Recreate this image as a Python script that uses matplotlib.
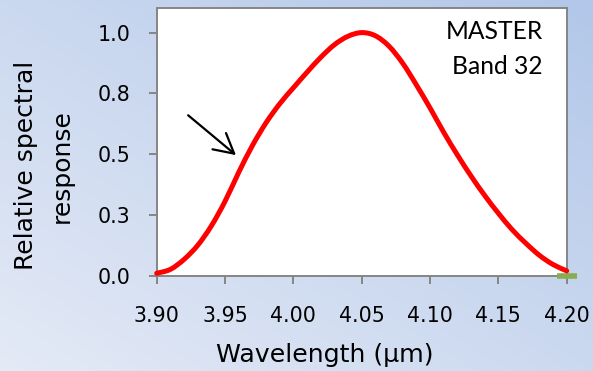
import numpy as np
import matplotlib
matplotlib.use("Agg")
import matplotlib.pyplot as plt
from matplotlib.path import Path
from matplotlib.patches import PathPatch

# Spectral response curve of MASTER band 32
wavelength = [3.900, 3.910, 3.920, 3.930, 3.940, 3.950, 3.960, 3.970, 3.980, 3.990,
              4.000, 4.010, 4.020, 4.030, 4.040, 4.050, 4.060, 4.070, 4.080,
              4.090, 4.100, 4.110, 4.120, 4.130, 4.140, 4.150, 4.160, 4.170, 4.180,
              4.190, 4.200]
response = [0.010, 0.026, 0.067, 0.125, 0.205, 0.306, 0.425, 0.535, 0.629, 0.707,
            0.773, 0.837, 0.898, 0.950, 0.985, 1.000, 0.987, 0.944, 0.874,
            0.785, 0.690, 0.590, 0.497, 0.410, 0.330, 0.257, 0.190, 0.134, 0.084,
            0.046, 0.020]

# Band-edge marker
edge_x = [4.20]
edge_y = [0.0]

x_ticks = [3.90, 3.95, 4.00, 4.05, 4.10, 4.15, 4.20]
x_tick_labels = ["3.90", "3.95", "4.00", "4.05", "4.10", "4.15", "4.20"]
y_ticks = [0.0, 0.25, 0.5, 0.75, 1.0]
y_tick_labels = ["0.0", "0.3", "0.5", "0.8", "1.0"]

W, H, DPI = 593, 371, 100
fig = plt.figure(figsize=(W / DPI, H / DPI), dpi=DPI)

# Diagonal blue gradient background
bg = fig.add_axes([0, 0, 1, 1], zorder=-10)
gx, gy = np.meshgrid(np.linspace(0, 1, 300), np.linspace(0, 1, 200))
t = (gx + gy) / 2.0  # 0 at bottom-left, 1 at top-right
c0 = np.array([228, 234, 246]) / 255.0
c1 = np.array([178, 199, 233]) / 255.0
img = c0[None, None, :] * (1 - t[..., None]) + c1[None, None, :] * t[..., None]
bg.imshow(img, origin="lower", extent=[0, 1, 0, 1], aspect="auto")
bg.set_axis_off()

def px(x):
    return x / W

def py(y):
    return 1 - y / H

ax = fig.add_axes([px(156.7), py(275.7), px(566.7) - px(156.7), py(8.3) - py(275.7)])
ax.set_facecolor("white")


def smooth_path(xs, ys):
    """Catmull-Rom curve through the points, expressed as cubic Bezier segments."""
    pts = np.column_stack([xs, ys]).astype(float)
    ext = np.vstack([pts[0], pts, pts[-1]])
    verts = [pts[0]]
    codes = [Path.MOVETO]
    for i in range(len(pts) - 1):
        p0, p1, p2, p3 = ext[i], ext[i + 1], ext[i + 2], ext[i + 3]
        verts += [p1 + (p2 - p0) / 6.0, p2 - (p3 - p1) / 6.0, p2]
        codes += [Path.CURVE4] * 3
    return Path(np.array(verts), codes)


ax.plot(edge_x, edge_y, linestyle="none", marker="_", markersize=14.8,
        markeredgewidth=4.0, color="#8aac50", clip_on=False, zorder=3)
curve = PathPatch(smooth_path(wavelength, response), facecolor="none",
                  edgecolor="#ff0000", linewidth=3.6, capstyle="round",
                  joinstyle="round", transform=ax.transData, clip_on=False, zorder=4)
ax.add_patch(curve)

ax.set_xlim(3.90, 4.20)
ax.set_ylim(0.0, 1.1)
ax.set_xticks(x_ticks)
ax.set_xticklabels(x_tick_labels)
ax.set_yticks(y_ticks)
ax.set_yticklabels(y_tick_labels)

spine_col = "#858585"
for side in ["left", "bottom", "top", "right"]:
    ax.spines[side].set_color(spine_col)
    ax.spines[side].set_linewidth(1.4)
ax.tick_params(axis="both", direction="out", length=5.8, width=1.4,
               color=spine_col, labelsize=14.8, labelcolor="black")
ax.tick_params(axis="y", pad=13)
ax.tick_params(axis="x", pad=16)
for lab in ax.get_xticklabels() + ax.get_yticklabels():
    lab.set_fontfamily("DejaVu Sans")

# Arrow pointing at the rising edge
ax.annotate("", xy=(3.958, 0.496), xytext=(3.923, 0.660),
            arrowprops=dict(arrowstyle="->,head_length=0.7,head_width=0.38",
                            color="black", lw=1.6, mutation_scale=20,
                            shrinkA=0, shrinkB=0))

# Band name
fig.text(px(543), py(39.3), "MASTER", ha="right", va="baseline",
         fontsize=17.7, family="Lato", color="black")
fig.text(px(543), py(74), "Band 32", ha="right", va="baseline",
         fontsize=17.7, family="Lato", color="black")

# Axis titles
fig.text(px(325), py(361.7), "Wavelength (\u00b5m)", ha="center", va="baseline",
         fontsize=18.2, family="DejaVu Sans", color="black")
fig.text(px(33), py(165), "Relative spectral", rotation=90, rotation_mode="anchor",
         ha="center", va="baseline", fontsize=18, family="DejaVu Sans", color="black")
fig.text(px(68.5), py(166), "response", rotation=90, rotation_mode="anchor",
         ha="center", va="baseline", fontsize=18, family="DejaVu Sans", color="black")

fig.savefig("out.png", dpi=DPI)
